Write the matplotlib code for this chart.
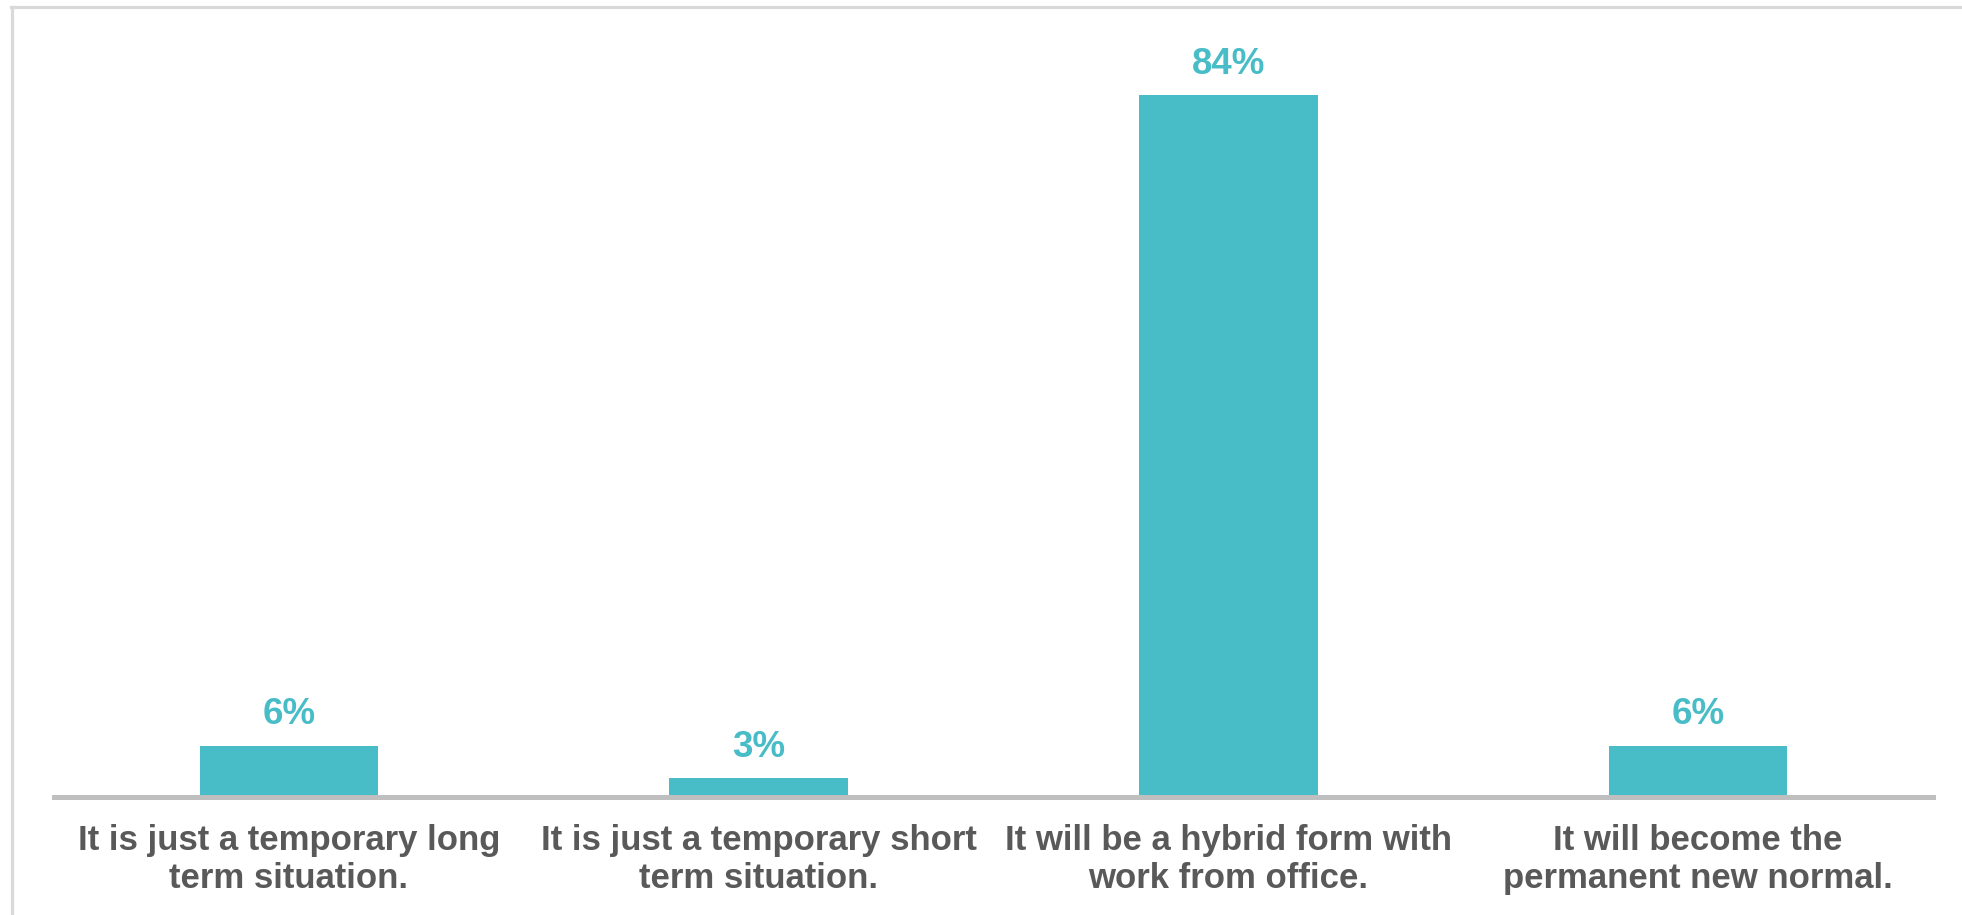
import matplotlib
matplotlib.use("Agg")
import matplotlib.pyplot as plt
from matplotlib.lines import Line2D

# survey answers
categories = ["It is just a temporary long\nterm situation.",
              "It is just a temporary short\nterm situation.",
              "It will be a hybrid form with\nwork from office.",
              "It will become the\npermanent new normal."]
values = [6.1, 2.2, 84.0, 6.1]
pct_labels = ["6%", "3%", "84%", "6%"]

plt.rcParams['font.family'] = ['Liberation Sans', 'DejaVu Sans']

fig = plt.figure(figsize=(19.62, 9.15), dpi=100)
ax = fig.add_axes([0.0275, 0.1295, 0.9577, 0.8486])

x = range(len(categories))
bars = ax.bar(x, values, width=0.38, color='#48BCC7', zorder=2)

for b, lab in zip(bars, pct_labels):
    ax.annotate(lab, (b.get_x() + b.get_width() / 2, b.get_height()),
                xytext=(0, 15.5), textcoords='offset points',
                ha='center', va='baseline', fontsize=26.5, fontweight='bold',
                color='#48BCC7')

ax.set_xlim(-0.5, 3.5)
ax.set_ylim(0, 93.0)
ax.set_xticks(list(x))
ax.set_xticklabels(categories, fontsize=25, fontweight='bold', color='#595959',
                   linespacing=1.18)
ax.tick_params(axis='x', length=0, pad=20)
ax.set_yticks([])

for s in ['top', 'right', 'left']:
    ax.spines[s].set_visible(False)
ax.spines['bottom'].set_color('#BFBFBF')
ax.spines['bottom'].set_linewidth(3.6)
ax.spines['bottom'].set_zorder(3)

# light frame, only top and left edges show
fig.add_artist(Line2D([11.5 / 1962, 11.5 / 1962], [0, 1 - 6.5 / 915],
                      color='#D9D9D9', linewidth=2.3, transform=fig.transFigure))
fig.add_artist(Line2D([10.5 / 1962, 1], [1 - 6.5 / 915, 1 - 6.5 / 915],
                      color='#D9D9D9', linewidth=2.3, transform=fig.transFigure))

fig.savefig("out.png", dpi=100, facecolor='white')
